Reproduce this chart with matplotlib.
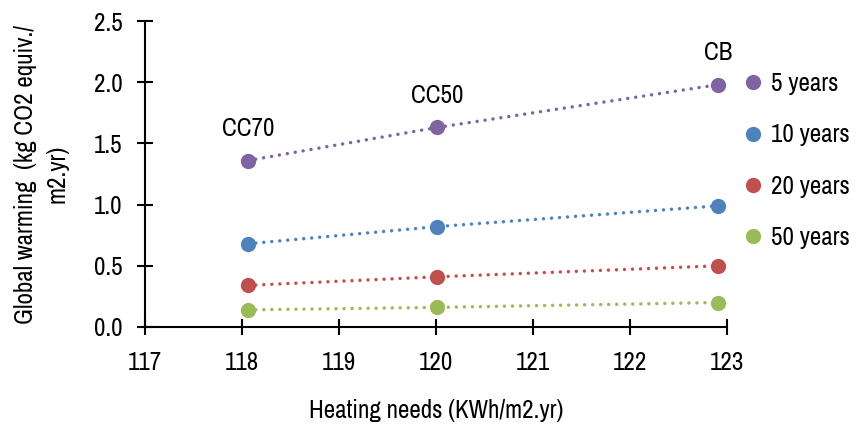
import matplotlib.pyplot as plt
from matplotlib.lines import Line2D
from matplotlib import font_manager
import numpy as np

# Data
heating_needs = [118.06, 120.01, 122.91]       # KWh/m2.yr
point_labels = ['CC70', 'CC50', 'CB']
series_names = ['5 years', '10 years', '20 years', '50 years']
gw_5y = [1.36, 1.63, 1.98]
gw_10y = [0.68, 0.82, 0.99]
gw_20y = [0.34, 0.41, 0.50]
gw_50y = [0.14, 0.16, 0.20]
series_values = [gw_5y, gw_10y, gw_20y, gw_50y]
colors = ['#8064A2', '#4F81BD', '#C0504D', '#9BBB59']

# pick a narrow sans font (Arial Narrow look-alike) if one is installed
names = {f.name for f in font_manager.fontManager.ttflist}
narrow = [n for n in ['Liberation Sans Narrow', 'Arial Narrow', 'Archivo Narrow',
                      'Roboto Condensed', 'PT Sans Narrow', 'Barlow Condensed']
          if n in names]
plt.rcParams['font.family'] = narrow[:1] + ['DejaVu Sans']
plt.rcParams['font.size'] = 18

fig = plt.figure(figsize=(8.66, 4.29), dpi=100)
ax = fig.add_axes([0.1674, 0.2378, 0.8395 - 0.1674, 0.951 - 0.2378])

for vals, col in zip(series_values, colors):
    ax.plot(heating_needs, vals, color=col, linewidth=2.5,
            linestyle=(0, (0.01, 2.3)), dash_capstyle='round',
            marker='o', markersize=11, markeredgewidth=0, clip_on=False)

# point labels above the 5-year series
for x, y, lab in zip(heating_needs, gw_5y, point_labels):
    ax.annotate(lab, xy=(x, y), xytext=(0, 15), textcoords='offset points',
                ha='center', va='bottom', fontsize=18)

ax.set_xlim(117, 123)
ax.set_ylim(0, 2.5)
ax.set_xticks(np.arange(117, 124, 1))
ax.set_yticks(np.arange(0, 2.51, 0.5))
ax.yaxis.set_major_formatter(plt.FormatStrFormatter('%.1f'))
ax.tick_params(direction='inout', length=12, width=1.5, labelsize=18)
ax.tick_params(axis='x', pad=11)
ax.tick_params(axis='y', pad=10)

for side in ['top', 'right']:
    ax.spines[side].set_visible(False)
for side in ['left', 'bottom']:
    ax.spines[side].set_linewidth(1.5)

ax.set_xlabel('Heating needs (KWh/m2.yr)', fontsize=18, labelpad=18)
ax.set_ylabel('Global warming  (kg CO2 equiv./\nm2.yr)', fontsize=18, labelpad=18,
              linespacing=1.45)

handles = [Line2D([], [], linestyle='none', marker='o', markersize=11,
                  markeredgewidth=0, color=c) for c in colors]
fig.legend(handles, series_names, loc='upper left', bbox_to_anchor=(0.862, 0.832),
           frameon=False, fontsize=18, handlelength=0.5, handletextpad=0.5,
           labelspacing=1.13, borderaxespad=0, borderpad=0)

fig.savefig('out.png', dpi=100)
